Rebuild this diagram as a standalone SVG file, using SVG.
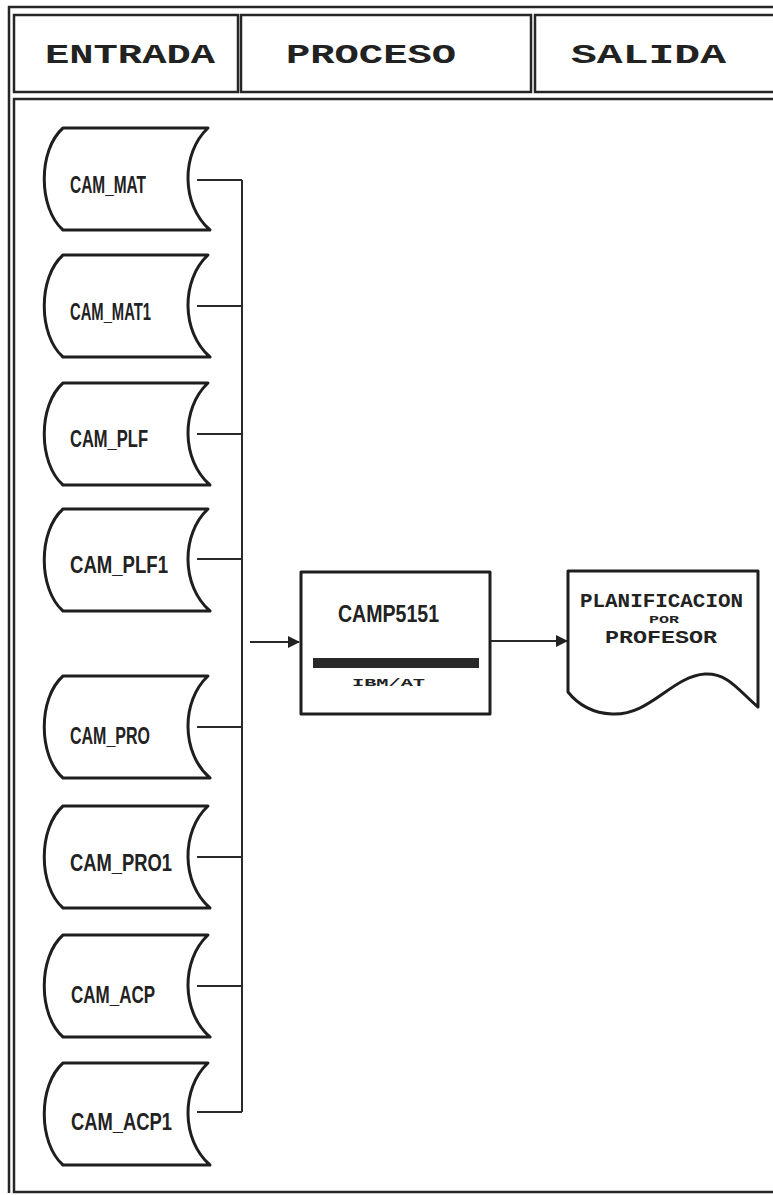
<svg xmlns="http://www.w3.org/2000/svg" width="773" height="1195" viewBox="0 0 773 1195">
<style>
.frame{fill:none;stroke:#262626;stroke-width:2.5}
.shape{fill:#fff;stroke:#1e1e1e;stroke-width:3;stroke-linejoin:round}
.conn{fill:none;stroke:#2a2a2a;stroke-width:2}
.hdr{font-family:"Liberation Mono",monospace;font-weight:bold;font-size:28px;fill:#222}
.lbl{font-family:"Liberation Sans","DejaVu Sans",sans-serif;font-weight:bold;font-size:23px;fill:#222}
.dot{font-family:"Liberation Mono",monospace;font-weight:bold;fill:#222}
</style>
<defs>
<path id="stor" d="M63,0 H208 C181,25 181,77 210,102 H63 C38,80 38,22 63,0 Z"/>
<marker id="arr" markerWidth="12" markerHeight="12" refX="11" refY="6" orient="auto" markerUnits="userSpaceOnUse">
<path d="M0,0 L12,6 L0,12 Z" fill="#222"/>
</marker>
</defs>
<rect width="773" height="1195" fill="#fff"/>
<g id="frame">
<path class="frame" d="M9,1193 V7 H775"/>
<rect class="frame" x="14" y="15" width="224" height="77"/>
<rect class="frame" x="241" y="15" width="290" height="77"/>
<rect class="frame" x="535" y="15" width="245" height="77"/>
<rect class="frame" x="14" y="99" width="770" height="1093"/>
<text class="hdr" x="45" y="63" textLength="170" lengthAdjust="spacingAndGlyphs">ENTRADA</text>
<text class="hdr" x="286" y="63" textLength="170" lengthAdjust="spacingAndGlyphs">PROCESO</text>
<text class="hdr" x="571" y="63" textLength="155" lengthAdjust="spacingAndGlyphs">SALIDA</text>
</g>
<g id="connectors">
<path class="conn" d="M197,180 H242 M197,306 H242 M197,434 H242 M197,559 H242 M197,727 H242 M197,857 H242 M197,986 H242 M197,1112 H242 M242,180 V1112"/>
<path class="conn" d="M250,642 H299" marker-end="url(#arr)"/>
<path class="conn" d="M491,641 H567" marker-end="url(#arr)"/>
</g>
<g id="n_cam_mat"><use href="#stor" class="shape" y="128"/><text class="lbl" x="70" y="193" textLength="76" lengthAdjust="spacingAndGlyphs">CAM_MAT</text></g>
<g id="n_cam_mat1"><use href="#stor" class="shape" y="255"/><text class="lbl" x="70" y="320" textLength="81" lengthAdjust="spacingAndGlyphs">CAM_MAT1</text></g>
<g id="n_cam_plf"><use href="#stor" class="shape" y="383"/><text class="lbl" x="70" y="447" textLength="78" lengthAdjust="spacingAndGlyphs">CAM_PLF</text></g>
<g id="n_cam_plf1"><use href="#stor" class="shape" y="509"/><text class="lbl" x="70" y="573" textLength="98" lengthAdjust="spacingAndGlyphs">CAM_PLF1</text></g>
<g id="n_cam_pro"><use href="#stor" class="shape" y="676"/><text class="lbl" x="70" y="744" textLength="80" lengthAdjust="spacingAndGlyphs">CAM_PRO</text></g>
<g id="n_cam_pro1"><use href="#stor" class="shape" y="806"/><text class="lbl" x="70" y="871" textLength="102" lengthAdjust="spacingAndGlyphs">CAM_PRO1</text></g>
<g id="n_cam_acp"><use href="#stor" class="shape" y="935"/><text class="lbl" x="71" y="1003" textLength="84" lengthAdjust="spacingAndGlyphs">CAM_ACP</text></g>
<g id="n_cam_acp1"><use href="#stor" class="shape" y="1063"/><text class="lbl" x="71" y="1130" textLength="101" lengthAdjust="spacingAndGlyphs">CAM_ACP1</text></g>
<g id="n_camp5151">
<rect class="shape" x="301" y="572" width="189" height="142"/>
<text class="lbl" x="338" y="622" font-size="26" textLength="101" lengthAdjust="spacingAndGlyphs">CAMP5151</text>
<rect x="313" y="658" width="166" height="10" fill="#2a2a2a"/>
<text class="dot" x="352" y="686" font-size="11" textLength="73" lengthAdjust="spacingAndGlyphs">IBM/AT</text>
</g>
<g id="n_planificacion">
<path class="shape" d="M568,571 H758 V707 C738,690 728,673 705,674 C672,676 650,716 612,714 C590,713 576,702 568,692 Z"/>
<text class="dot" x="580" y="607" font-size="21" textLength="163" lengthAdjust="spacingAndGlyphs">PLANIFICACION</text>
<text class="dot" x="649" y="623" font-size="10" textLength="30" lengthAdjust="spacingAndGlyphs">POR</text>
<text class="dot" x="605" y="643" font-size="18" textLength="112" lengthAdjust="spacingAndGlyphs">PROFESOR</text>
</g>
</svg>
